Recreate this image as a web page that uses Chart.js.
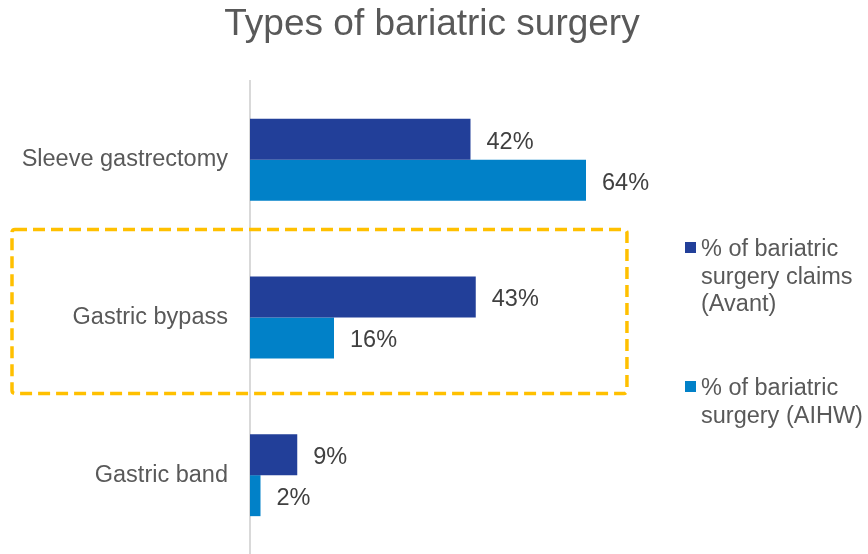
<!DOCTYPE html>
<html>
<head>
<meta charset="utf-8">
<title>Types of bariatric surgery</title>
<script src="https://cdn.jsdelivr.net/npm/chart.js@4/dist/chart.umd.min.js"></script>
<style>
  html, body { margin: 0; padding: 0; background: #fff; overflow: hidden; }
  canvas { display: block; }
</style>
</head>
<body>
<canvas id="chart" width="868" height="554"></canvas>
<script>
// Surgery types and the two percentage series
const categories = ['Sleeve gastrectomy', 'Gastric bypass', 'Gastric band'];
const avantClaims = [42, 43, 9];
const aihwShare = [64, 16, 2];
const seriesNames = [
  ['% of bariatric', 'surgery claims', '(Avant)'],
  ['% of bariatric', 'surgery (AIHW)']
];
const seriesColors = ['#223f99', '#0181c8'];
const highlighted = 'Gastric bypass';
const chartTitle = 'Types of bariatric surgery';

const FONT = "'Liberation Sans', Arial, sans-serif";

// title centred over the whole canvas, not just the plot
const pageTitle = {
  id: 'pageTitle',
  afterDraw(chart) {
    const ctx = chart.ctx;
    ctx.save();
    ctx.font = '37px ' + FONT;
    ctx.fillStyle = '#595959';
    ctx.textAlign = 'center';
    ctx.textBaseline = 'alphabetic';
    ctx.fillText(chartTitle, chart.width / 2 - 2, 35);
    ctx.restore();
  }
};

// value labels to the right of each bar
const valueLabels = {
  id: 'valueLabels',
  afterDatasetsDraw(chart) {
    const ctx = chart.ctx;
    ctx.save();
    ctx.font = '23.5px ' + FONT;
    ctx.fillStyle = '#404040';
    ctx.textAlign = 'left';
    ctx.textBaseline = 'middle';
    chart.data.datasets.forEach((ds, i) => {
      chart.getDatasetMeta(i).data.forEach((bar, j) => {
        ctx.fillText(ds.data[j] + '%', bar.x + 16, bar.y + 3);
      });
    });
    ctx.restore();
  }
};

// dashed box around the highlighted category
const highlightBox = {
  id: 'highlightBox',
  afterDraw(chart) {
    const ctx = chart.ctx;
    const x = chart.scales.x, y = chart.scales.y;
    const yc = y.getPixelForValue(categories.indexOf(highlighted));
    const left = 12, right = x.getPixelForValue(71.8);
    const top = yc - 88, bottom = yc + 76;
    ctx.save();
    ctx.strokeStyle = '#ffc000';
    ctx.lineWidth = 3.5;
    ctx.setLineDash([12, 6]);
    ctx.beginPath();
    ctx.roundRect(left, top, right - left, bottom - top, 3);
    ctx.stroke();
    ctx.restore();
  }
};

// legend with wrapped text on the right
const sideLegend = {
  id: 'sideLegend',
  afterDraw(chart) {
    const ctx = chart.ctx;
    const lx = chart.chartArea.right + 15;
    const tops = [249, 388];
    ctx.save();
    ctx.font = '23.5px ' + FONT;
    ctx.textBaseline = 'middle';
    seriesNames.forEach((lines, i) => {
      ctx.fillStyle = seriesColors[i];
      ctx.fillRect(lx, tops[i] - 7, 11, 11);
      ctx.fillStyle = '#595959';
      lines.forEach((t, k) => ctx.fillText(t, lx + 16, tops[i] + 1 + k * 27.5));
    });
    ctx.restore();
  }
};

new Chart(document.getElementById('chart'), {
  type: 'bar',
  data: {
    labels: categories,
    datasets: [
      { label: seriesNames[0].join(' '), data: avantClaims, backgroundColor: seriesColors[0] },
      { label: seriesNames[1].join(' '), data: aihwShare, backgroundColor: seriesColors[1] }
    ]
  },
  options: {
    indexAxis: 'y',
    responsive: false,
    animation: false,
    layout: { padding: { left: 0, right: 198, top: 81, bottom: 0 } },
    datasets: {
      bar: { barPercentage: 1, categoryPercentage: 0.52 }
    },
    scales: {
      x: { display: false, min: 0, max: 80 },
      y: {
        grid: { display: false },
        border: { display: true, color: '#d9d9d9', width: 2 },
        ticks: {
          color: '#595959',
          font: { family: FONT, size: 23.5 },
          padding: 14
        },
        afterFit(scale) {
          scale.width = 250;
          scale.paddingTop = 0;
          scale.paddingBottom = 0;
        }
      }
    },
    plugins: {
      legend: { display: false },
      tooltip: { enabled: false },
      title: { display: false }
    }
  },
  plugins: [pageTitle, valueLabels, highlightBox, sideLegend]
});
</script>
</body>
</html>
